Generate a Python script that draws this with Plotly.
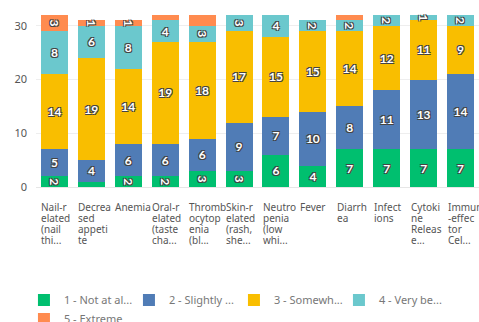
import plotly.graph_objects as go

categories = ["Nail-related (nail thi...", "Decreased appetite", "Anemia", "Oral-related (taste cha...",
              "Thrombocytopenia (bl...", "Skin-related (rash, she...", "Neutropenia (low whi...", "Fever",
              "Diarrhea", "Infections", "Cytokine Release...", "Immune-effector Cel..."]
tick_lines = [["Nail-r", "elated", "(nail", "thi..."], ["Decrea", "sed", "appeti", "te"], ["Anemia"],
              ["Oral-r", "elated", "(taste", "cha..."], ["Thromb", "ocytop", "enia", "(bl..."],
              ["Skin-r", "elated", "(rash,", "she..."], ["Neutro", "penia", "(low", "whi..."], ["Fever"],
              ["Diarrh", "ea"], ["Infect", "ions"], ["Cytoki", "ne", "Releas", "e..."],
              ["Immune", "-effec", "tor", "Cel..."]]

not_at_all = [2, 1, 2, 2, 3, 3, 6, 4, 7, 7, 7, 7]
slightly   = [5, 4, 6, 6, 6, 9, 7, 10, 8, 11, 13, 14]
somewhat   = [14, 19, 14, 19, 18, 17, 15, 15, 14, 12, 11, 9]
very       = [8, 6, 8, 4, 3, 3, 4, 2, 2, 2, 1, 2]
extreme    = [3, 1, 1, 1, 2, 0, 0, 0, 1, 0, 0, 0]

series_names = ["1 - Not at al...", "2 - Slightly ...", "3 - Somewh...", "4 - Very be...", "5 - Extreme"]
colors = ["#00BF6F", "#507CB6", "#F9BE00", "#6BC8CD", "#FF8B4F"]
# segments whose value label is not shown in the reference
hidden = {0: [1], 4: [3, 4, 8]}

fig = go.Figure()
xs = list(range(len(categories)))
for s, (name, vals, col) in enumerate(zip(series_names, [not_at_all, slightly, somewhat, very, extreme], colors)):
    texts = []
    for i, v in enumerate(vals):
        if v == 0 or i in hidden.get(s, []):
            texts.append("")
        else:
            texts.append(str(v))
    fig.add_trace(go.Bar(
        x=xs, y=vals, name=name, marker=dict(color=col, line=dict(width=0)),
        text=texts, textposition="inside", insidetextanchor="middle",
        textfont=dict(family="Lato, Roboto, sans-serif", size=12, color="white", weight="bold",
                      shadow="-1px -1px 0 #444, 1px -1px 0 #444, -1px 1px 0 #444, 1px 1px 0 #444"),
        hoverinfo="skip", cliponaxis=False,
    ))

for i, lines in enumerate(tick_lines):
    for k, ln in enumerate(lines):
        fig.add_annotation(x=i, xref="x", y=0, yref="paper", text=ln, showarrow=False,
                           xanchor="left", yanchor="top", xshift=-15, yshift=-11 - 11 * k,
                           font=dict(family="Noto Sans, sans-serif", size=10, color="#555"))

fig.update_layout(
    width=479, height=322, barmode="stack", bargap=0.27,
    margin=dict(l=36, r=0, t=15, b=135, autoexpand=False),
    plot_bgcolor="white", paper_bgcolor="white",
    uniformtext=dict(mode="show", minsize=12),
    xaxis=dict(range=[-0.5, 11.5], showticklabels=False, showgrid=False, zeroline=False,
               showline=True, linecolor="#e6e6e6"),
    yaxis=dict(range=[0, 32], tickvals=[0, 10, 20, 30], showgrid=True, gridcolor="#eeeeee",
               zeroline=False, tickfont=dict(family="Noto Sans, sans-serif", size=11, color="#555"),
               ticklabelstandoff=8),
    legend=dict(orientation="h", xref="container", x=0.05, xanchor="left", yref="container", y=0.113,
                yanchor="top", entrywidth=60, entrywidthmode="pixels", traceorder="normal",
                font=dict(family="Noto Sans, sans-serif", size=11, color="#777"), tracegroupgap=0),
    showlegend=True,
)

fig.write_html("out.html")
